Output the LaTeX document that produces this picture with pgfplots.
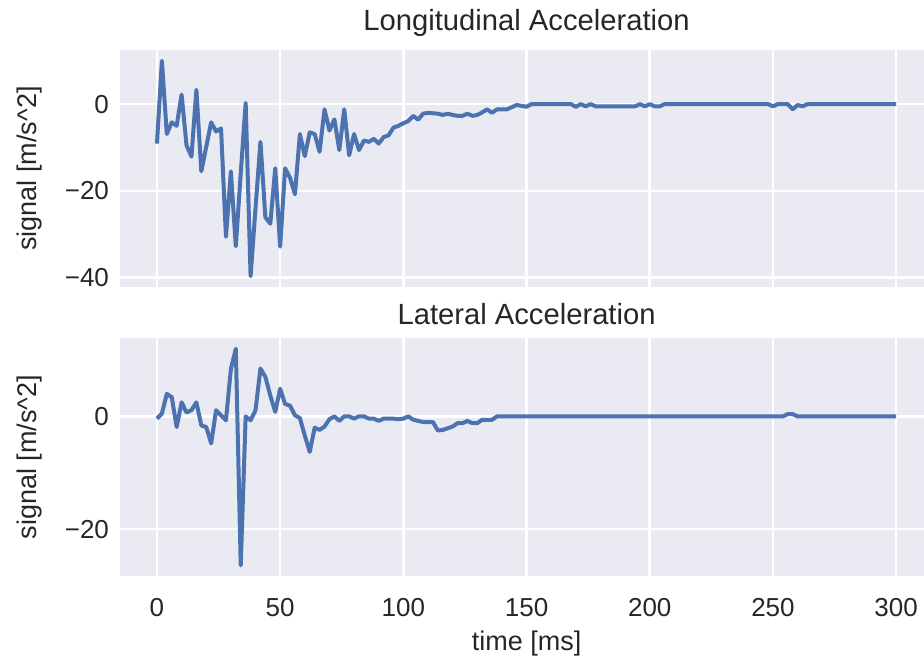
\documentclass[border=0pt]{standalone}
\usepackage{pgfplots}
\pgfplotsset{compat=1.18}
\usepackage{fontspec}
\setmainfont{Liberation Sans}

\definecolor{panelbg}{HTML}{EAEAF2}
\definecolor{sigline}{HTML}{4C72B0}
\definecolor{inktext}{HTML}{262626}

% Longitudinal acceleration signal, t in ms, a in m/s^2
\pgfplotstableread{
t a
0 -9.1
2 10
4 -6.9
6 -4.2
8 -5
10 2.2
12 -9.5
14 -12.1
16 3.3
18 -15.5
22 -4.2
24 -6.3
26 -5.6
28 -30.6
30 -15.5
32 -32.8
34 -16
36 0.3
38 -39.7
40 -24
42 -8.7
44 -26.1
46 -27.6
48 -14.8
50 -32.9
52 -14.8
54 -17
56 -20.8
58 -6.9
60 -12
62 -6.5
64 -6.9
66 -11
68 -1.2
70 -6.1
72 -3.5
74 -10.6
76 -1.2
78 -11.8
80 -6.9
82 -10.6
84 -8.4
86 -8.7
88 -8
90 -9.1
92 -7.6
94 -7.2
96 -5.4
98 -5
100 -4.4
102 -3.9
104 -2.7
106 -3.6
108 -2.2
110 -2
112 -2.1
114 -2.2
116 -2.5
118 -2.2
120 -2.5
122 -2.7
124 -2.7
126 -2.2
128 -2.7
130 -2.5
132 -1.9
134 -1.2
136 -2
138 -1.2
140 -1.2
142 -1.2
144 -0.7
146 -0.2
148 -0.4
150 -0.6
152 0
168 0
170 -0.6
172 0
174 -0.5
176 0
178 -0.5
194 -0.5
196 0
198 -0.5
200 0
202 -0.5
204 -0.5
206 0
248 0
250 -0.5
252 0
256 0
258 -1.2
260 -0.2
262 -0.5
264 0
300 0
}\longacc

% Lateral acceleration signal, t in ms, a in m/s^2
\pgfplotstableread{
t a
0 -0.4
2 0.5
4 4
6 3.4
8 -1.9
10 2.5
12 0.7
14 1.1
16 2.5
18 -1.6
20 -1.9
22 -4.8
24 1.1
26 0.2
28 -0.7
30 8.4
32 12
34 -26.4
36 0
38 -0.7
40 1.1
42 8.5
44 7
46 3.7
48 0.8
50 4.9
52 2.2
54 1.9
56 0.2
58 -0.3
60 -3.4
62 -6.3
64 -2
66 -2.4
68 -1.8
70 -0.5
72 0
74 -0.8
76 0
78 0
80 -0.4
82 0
84 0
86 -0.4
88 -0.4
90 -0.8
92 -0.4
94 -0.4
96 -0.4
98 -0.5
100 -0.4
102 0
104 -0.6
106 -0.8
108 -1
110 -1
112 -1
114 -2.5
116 -2.4
118 -2.1
120 -1.8
122 -1.2
124 -1.2
126 -0.8
128 -1.2
130 -1.2
132 -0.6
134 -0.6
136 -0.6
138 0
254 0
256 0.4
258 0.4
260 0
300 0
}\latacc

\pgfplotsset{
  darkgrid/.style={
    scale only axis,
    width=402pt,
    xmin=-15, xmax=311.3,
    axis background/.style={fill=panelbg},
    axis line style={draw=none},
    grid=major,
    major grid style={white, line width=1.3pt},
    tick style={draw=none},
    major tick length=0pt,
    xtick={0,50,...,300},
    ticklabel style={font=\fontsize{13}{15}\selectfont, text=inktext},
    yticklabel style={xshift=-2pt},
    xticklabel style={yshift=-7.5pt},
    title style={at={(0.5057,1)}, yshift=-3pt, font=\fontsize{14.6}{17}\selectfont, text=inktext},
    every axis y label/.style={at={(rel axis cs:0,0.5)}, xshift=-45pt, rotate=90,
      anchor=center, font=\fontsize{13.5}{15}\selectfont, text=inktext},
    every axis x label/.style={at={(rel axis cs:0.5057,0)}, yshift=-34pt,
      anchor=center, font=\fontsize{13.5}{15}\selectfont, text=inktext},
  },
  signal/.style={sigline, line width=2pt, line join=round, no markers},
}

\begin{document}
\begin{tikzpicture}
\path[use as bounding box] (0,0) rectangle (462pt,-331pt);

\begin{axis}[darkgrid,
  at={(60pt,-25pt)}, anchor=north west, height=118.5pt,
  ymin=-42.2, ymax=12.5,
  ytick={-40,-20,0}, yticklabels={−40,−20,0},
  xticklabels={},
  title={Longitudinal Acceleration},
  ylabel={signal [m/s\textasciicircum 2]}]
\addplot[signal] table[x=t, y=a] {\longacc};
\end{axis}

\begin{axis}[darkgrid,
  at={(60pt,-169pt)}, anchor=north west, height=119pt,
  ymin=-28.3, ymax=13.9,
  ytick={-20,0}, yticklabels={−20,0},
  xticklabels={0,50,100,150,200,250,300},
  title={Lateral Acceleration},
  xlabel={time [ms]},
  ylabel={signal [m/s\textasciicircum 2]}]
\addplot[signal] table[x=t, y=a] {\latacc};
\end{axis}
\end{tikzpicture}
\end{document}
